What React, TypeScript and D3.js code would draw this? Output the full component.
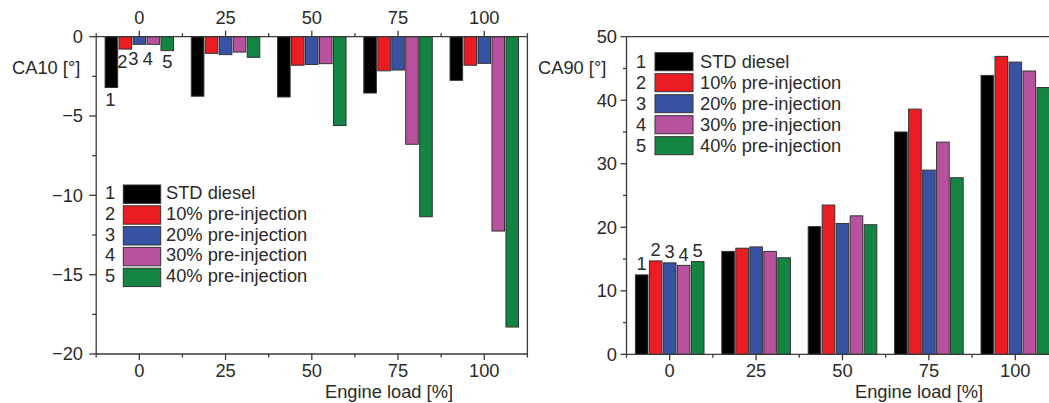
import React from "react";
import * as d3 from "d3";

const loads = [0, 25, 50, 75, 100];
const seriesNames = ["STD diesel", "10% pre-injection", "20% pre-injection", "30% pre-injection", "40% pre-injection"];
const seriesIds = ["1", "2", "3", "4", "5"];
const colors = ["#000000", "#ec1c24", "#3953a4", "#b8529e", "#138441"];

const ca10Std = [-3.2, -3.75, -3.8, -3.55, -2.75];
const ca10P10 = [-0.78, -1.05, -1.8, -2.15, -1.8];
const ca10P20 = [-0.48, -1.13, -1.75, -2.1, -1.68];
const ca10P30 = [-0.48, -0.97, -1.7, -6.78, -12.25];
const ca10P40 = [-0.88, -1.3, -5.6, -11.35, -18.3];

const ca90Std = [12.5, 16.2, 20.1, 35.0, 43.9];
const ca90P10 = [14.7, 16.7, 23.5, 38.6, 46.9];
const ca90P20 = [14.4, 16.9, 20.6, 29.0, 46.0];
const ca90P30 = [14.0, 16.2, 21.8, 33.4, 44.6];
const ca90P40 = [14.6, 15.2, 20.4, 27.8, 42.0];

const ca10Ticks = [0, -5, -10, -15, -20];
const ca10Minor = [-2.5, -7.5, -12.5, -17.5];
const ca90Ticks = [0, 10, 20, 30, 40, 50];
const ca90Minor = [5, 15, 25, 35, 45];
const bandEdges = [-12.5, 12.5, 37.5, 62.5, 87.5, 112.5];

const ca10 = [ca10Std, ca10P10, ca10P20, ca10P30, ca10P40];
const ca90 = [ca90Std, ca90P10, ca90P20, ca90P30, ca90P40];

const FONT = "'Liberation Sans', Arial, sans-serif";
const AX = "#3a3a3a";
const TXT = "#2a2a2a";
const FS = 18.3;
const fmt = (v: number) => (v < 0 ? "\u2212" + Math.abs(v) : String(v));

function Bars({ data, x, y, base }: any) {
  const band = x(25) - x(0);
  const slot = band * 0.162;
  const w = slot * 0.9;
  return (
    <g>
      {data.map((vals: number[], si: number) =>
        vals.map((v, ci) => {
          const cx = x(loads[ci]) + (si - 2) * slot;
          const y0 = y(base);
          const y1 = y(v);
          return (
            <rect
              key={si + "-" + ci}
              x={cx - w / 2}
              y={Math.min(y0, y1)}
              width={w}
              height={Math.abs(y1 - y0)}
              fill={colors[si]}
              stroke="#333"
              strokeWidth={1}
            />
          );
        })
      )}
    </g>
  );
}

function Legend({ x0, top, pitch, boxW, boxH, numX, textX, baseOff }: any) {
  return (
    <g fontFamily={FONT} fontSize={FS} fill={TXT}>
      {seriesNames.map((n, i) => (
        <g key={n}>
          <text x={numX} y={top + i * pitch + baseOff} textAnchor="middle">{seriesIds[i]}</text>
          <rect x={x0} y={top + i * pitch} width={boxW} height={boxH} fill={colors[i]} stroke="#333" strokeWidth={1} />
          <text x={textX} y={top + i * pitch + baseOff}>{n}</text>
        </g>
      ))}
    </g>
  );
}

export default function App() {
  // Left chart (CA10)
  const xL = d3.scaleLinear().domain([-12.5, 112.5]).range([96.2, 527.4]);
  const yL = d3.scaleLinear().domain([-20, 0]).range([354, 36.7]);
  // Right chart (CA90)
  const xR = d3.scaleLinear().domain([-12.5, 112.5]).range([626.5, 1058.5]);
  const yR = d3.scaleLinear().domain([0, 50]).range([354.3, 36.7]);

  const slotL = (xL(25) - xL(0)) * 0.162;
  const slotR = (xR(25) - xR(0)) * 0.162;
  const lblDxL = [-1, -3, -6, -5.5, 0];
  const lblDyL = [19, 19, 21, 21, 17.5];

  return (
    <div style={{ position: "absolute", left: 0, top: 0 }}>
      <svg width={1049} height={403} style={{ display: "block", background: "#fff" }}>
        <rect x={0} y={0} width={1049} height={403} fill="#fff" />
        {/* ---------- LEFT CHART ---------- */}
        <Bars data={ca10} x={xL} y={yL} base={0} />
        <g stroke={AX} strokeWidth={1.3} fill="none">
          <line x1={xL(-12.5)} x2={xL(112.5)} y1={yL(0)} y2={yL(0)} />
          <line x1={xL(-12.5)} x2={xL(112.5)} y1={yL(-20)} y2={yL(-20)} />
          <line x1={xL(-12.5)} x2={xL(-12.5)} y1={yL(0)} y2={yL(-20)} />
          <line x1={xL(112.5)} x2={xL(112.5)} y1={yL(0)} y2={yL(-20)} />
          {ca10Ticks.map((t) => (
            <line key={"lt" + t} x1={xL(-12.5) - 7} x2={xL(-12.5)} y1={yL(t)} y2={yL(t)} />
          ))}
          {ca10Minor.map((t) => (
            <line key={"lm" + t} x1={xL(-12.5) - 4} x2={xL(-12.5)} y1={yL(t)} y2={yL(t)} />
          ))}
          {loads.map((l) => (
            <g key={"lx" + l}>
              <line x1={xL(l)} x2={xL(l)} y1={yL(0)} y2={yL(0) - 6} />
              <line x1={xL(l)} x2={xL(l)} y1={yL(-20)} y2={yL(-20) + 6} />
            </g>
          ))}
          {bandEdges.map((b) => (
            <g key={"lb" + b}>
              <line x1={xL(b)} x2={xL(b)} y1={yL(0)} y2={yL(0) - 3.5} />
              <line x1={xL(b)} x2={xL(b)} y1={yL(-20)} y2={yL(-20) + 3.5} />
            </g>
          ))}
        </g>
        <g fontFamily={FONT} fontSize={FS} fill={TXT}>
          {ca10Ticks.map((t) => (
            <text key={"ltl" + t} x={83} y={yL(t) + 6.4} textAnchor="end">{fmt(t)}</text>
          ))}
          {loads.map((l) => (
            <text key={"ltop" + l} x={xL(l)} y={24} textAnchor="middle">{l}</text>
          ))}
          {loads.map((l) => (
            <text key={"lbot" + l} x={xL(l)} y={377} textAnchor="middle">{l}</text>
          ))}
          <text x={389} y={398} textAnchor="middle">Engine load [%]</text>
          <text x={12} y={74}>CA10 [°]</text>
          {seriesIds.map((id, si) => (
            <text
              key={"lid" + id}
              x={xL(loads[0]) + (si - 2) * slotL + lblDxL[si]}
              y={yL(ca10[si][0]) + lblDyL[si]}
              textAnchor="middle"
            >
              {id}
            </text>
          ))}
        </g>
        <Legend x0={123.3} top={185} pitch={20.8} boxW={37.4} boxH={18.4} numX={110} textX={166} baseOff={14} />

        {/* ---------- RIGHT CHART ---------- */}
        <Bars data={ca90} x={xR} y={yR} base={0} />
        <g stroke={AX} strokeWidth={1.3} fill="none">
          <line x1={xR(-12.5)} x2={xR(112.5)} y1={yR(50)} y2={yR(50)} />
          <line x1={xR(-12.5)} x2={xR(112.5)} y1={yR(0)} y2={yR(0)} />
          <line x1={xR(-12.5)} x2={xR(-12.5)} y1={yR(0)} y2={yR(50)} />
          {ca90Ticks.map((t) => (
            <line key={"rt" + t} x1={xR(-12.5) - 6} x2={xR(-12.5)} y1={yR(t)} y2={yR(t)} />
          ))}
          {ca90Minor.map((t) => (
            <line key={"rm" + t} x1={xR(-12.5) - 3.5} x2={xR(-12.5)} y1={yR(t)} y2={yR(t)} />
          ))}
          {loads.map((l) => (
            <line key={"rx" + l} x1={xR(l)} x2={xR(l)} y1={yR(0)} y2={yR(0) + 6} />
          ))}
          {bandEdges.map((b) => (
            <line key={"rb" + b} x1={xR(b)} x2={xR(b)} y1={yR(0)} y2={yR(0) + 3.5} />
          ))}
        </g>
        <g fontFamily={FONT} fontSize={FS} fill={TXT}>
          {ca90Ticks.map((t) => (
            <text key={"rtl" + t} x={617} y={yR(t) + 6.4} textAnchor="end">{fmt(t)}</text>
          ))}
          {loads.map((l) => (
            <text key={"rbot" + l} x={xR(l)} y={377} textAnchor="middle">{l}</text>
          ))}
          <text x={919} y={398} textAnchor="middle">Engine load [%]</text>
          <text x={538} y={74}>CA90 [°]</text>
          {seriesIds.map((id, si) => (
            <text
              key={"rid" + id}
              x={xR(loads[0]) + (si - 2) * slotR}
              y={yR(ca90[si][0]) - 4.5}
              textAnchor="middle"
            >
              {id}
            </text>
          ))}
        </g>
        <Legend x0={655} top={52.7} pitch={21} boxW={38} boxH={18} numX={641} textX={700} baseOff={15.5} />
      </svg>
    </div>
  );
}
